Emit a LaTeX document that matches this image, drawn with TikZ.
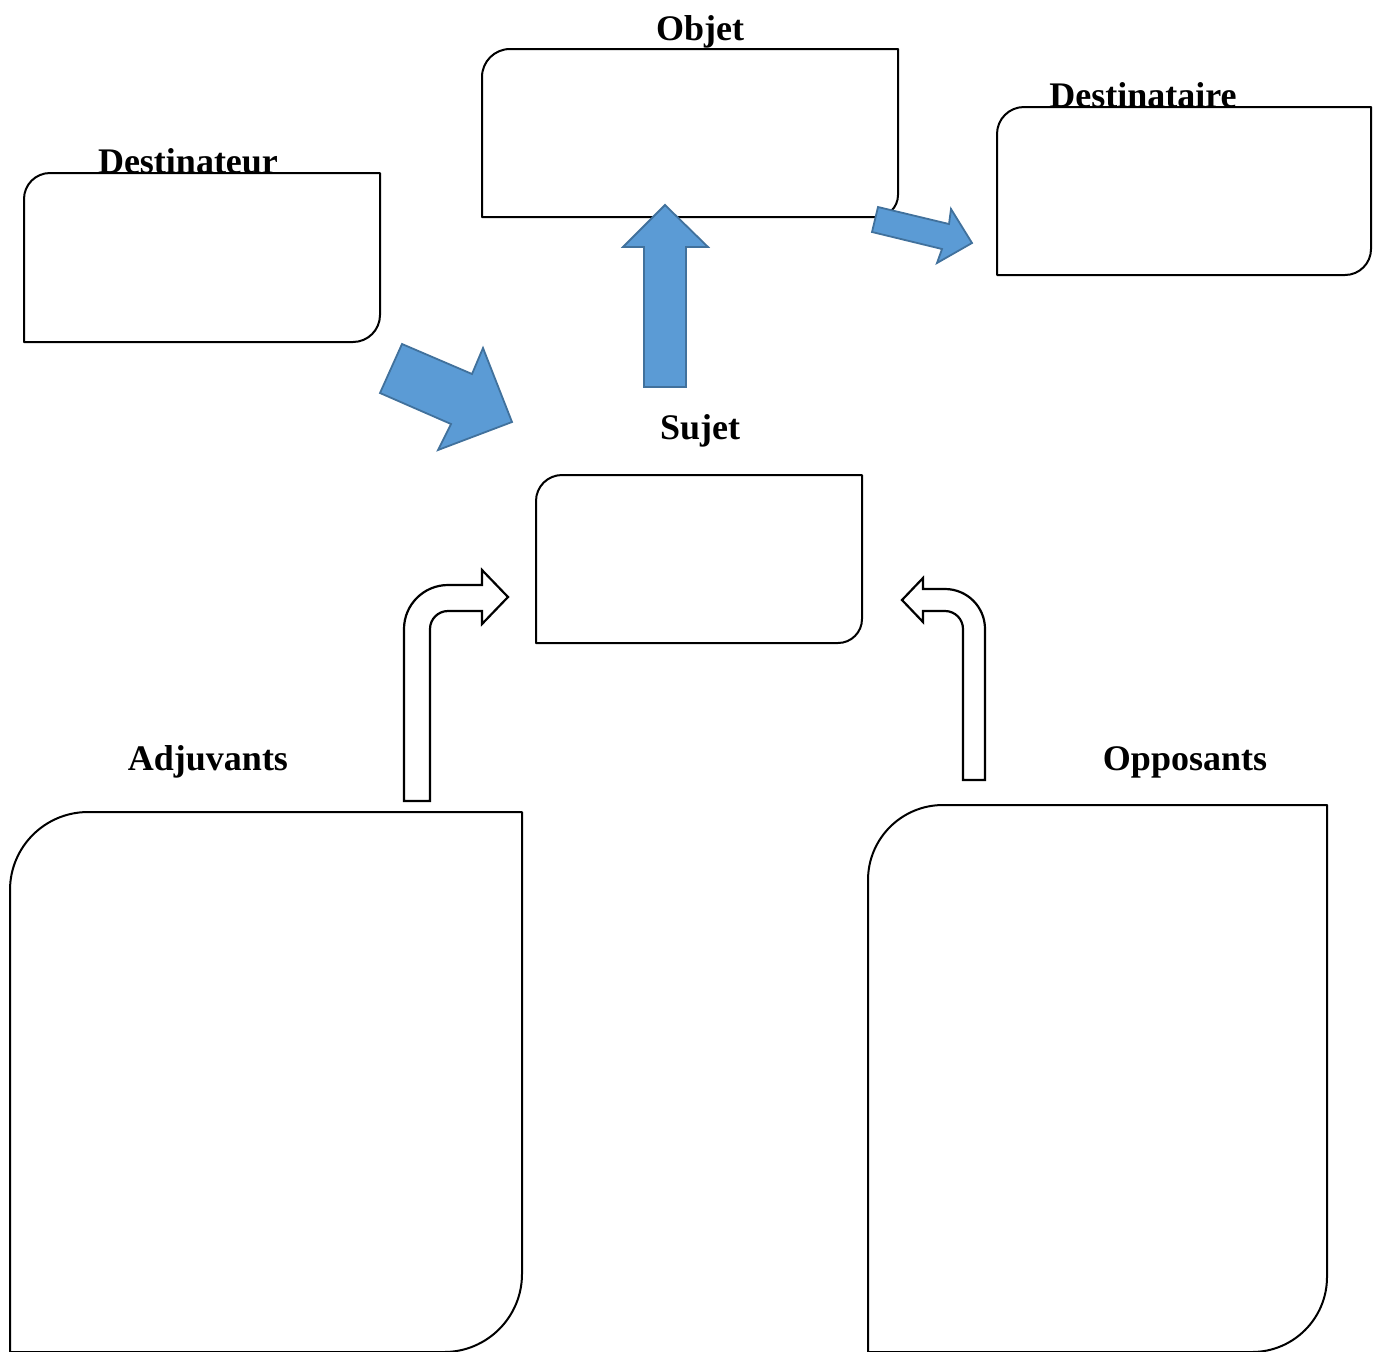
\documentclass[tikz,border=0pt]{standalone}
\usepackage{fontspec}
\setmainfont{Liberation Serif}
\definecolor{blueFill}{HTML}{5B9BD5}
\definecolor{blueLine}{HTML}{41719C}
\newcommand\dgbox[6]{%
  \draw[boxline] (#1,#4) -- (#1,#2+#5)
    arc[start angle=180,end angle=90,radius=#5*0.5pt]
    -- (#3,#2) -- (#3,#4-#6)
    arc[start angle=0,end angle=-90,radius=#6*0.5pt] -- cycle;}
\begin{document}
\begin{tikzpicture}[x=0.5pt,y=-0.5pt,
  boxline/.style={draw=black,fill=white,line width=1pt,line join=round},
  bluearrow/.style={draw=blueLine,fill=blueFill,line width=0.9pt,line join=miter},
  whitearrow/.style={draw=black,fill=white,line width=1.1pt,line join=miter},
  lab/.style={anchor=base,inner sep=0pt,font=\fontsize{18}{20}\selectfont\bfseries}]
\useasboundingbox (0,0) rectangle (1380,1351);
\clip (0,0) rectangle (1380,1351);
% boxes
\dgbox{24}{173}{380}{342}{26}{27}
\dgbox{482}{49}{898}{217}{28}{22}
\dgbox{997}{107}{1371}{275}{27}{26}
\dgbox{536}{475}{862}{643}{26}{24}
\dgbox{10}{812}{522}{1352}{78}{78}
\dgbox{868}{805}{1327}{1352}{75}{75}
% labels
\node[lab] (destinateur) at (188,173) {Destinateur};
\node[lab] (objet) at (700,40) {Objet};
\node[lab] (destinataire) at (1143,107) {Destinataire};
\node[lab] (sujet) at (700,439) {Sujet};
\node[lab] (adjuvants) at (208,770) {Adjuvants};
\node[lab] (opposants) at (1185,770) {Opposants};
% blue arrows
\draw[bluearrow] (402,344) -- (472,374) -- (483,348) -- (512,422) -- (438,450) -- (451,424) -- (380,393) -- cycle;
\draw[bluearrow] (878,207) -- (949,224) -- (951,209) -- (972,243) -- (937,263) -- (942,249) -- (872,232) -- cycle;
\draw[bluearrow] (644,387) -- (644,247) -- (623,247) -- (665,205) -- (708,247) -- (686,247) -- (686,387) -- cycle;
% white bent arrows
\draw[whitearrow] (404,801) -- (404,629)
  arc[start angle=180,end angle=90,radius=22pt] -- (482,585) -- (482,570)
  -- (508,597) -- (482,624) -- (482,611) -- (448,611)
  arc[start angle=90,end angle=180,radius=9pt] -- (430,801) -- cycle;
\draw[whitearrow] (923,622) -- (923,611) -- (945,611)
  arc[start angle=90,end angle=0,radius=9pt] -- (963,780) -- (985,780) -- (985,629)
  arc[start angle=0,end angle=90,radius=20pt] -- (923,589) -- (923,578)
  -- (902,600) -- cycle;
\end{tikzpicture}
\end{document}
